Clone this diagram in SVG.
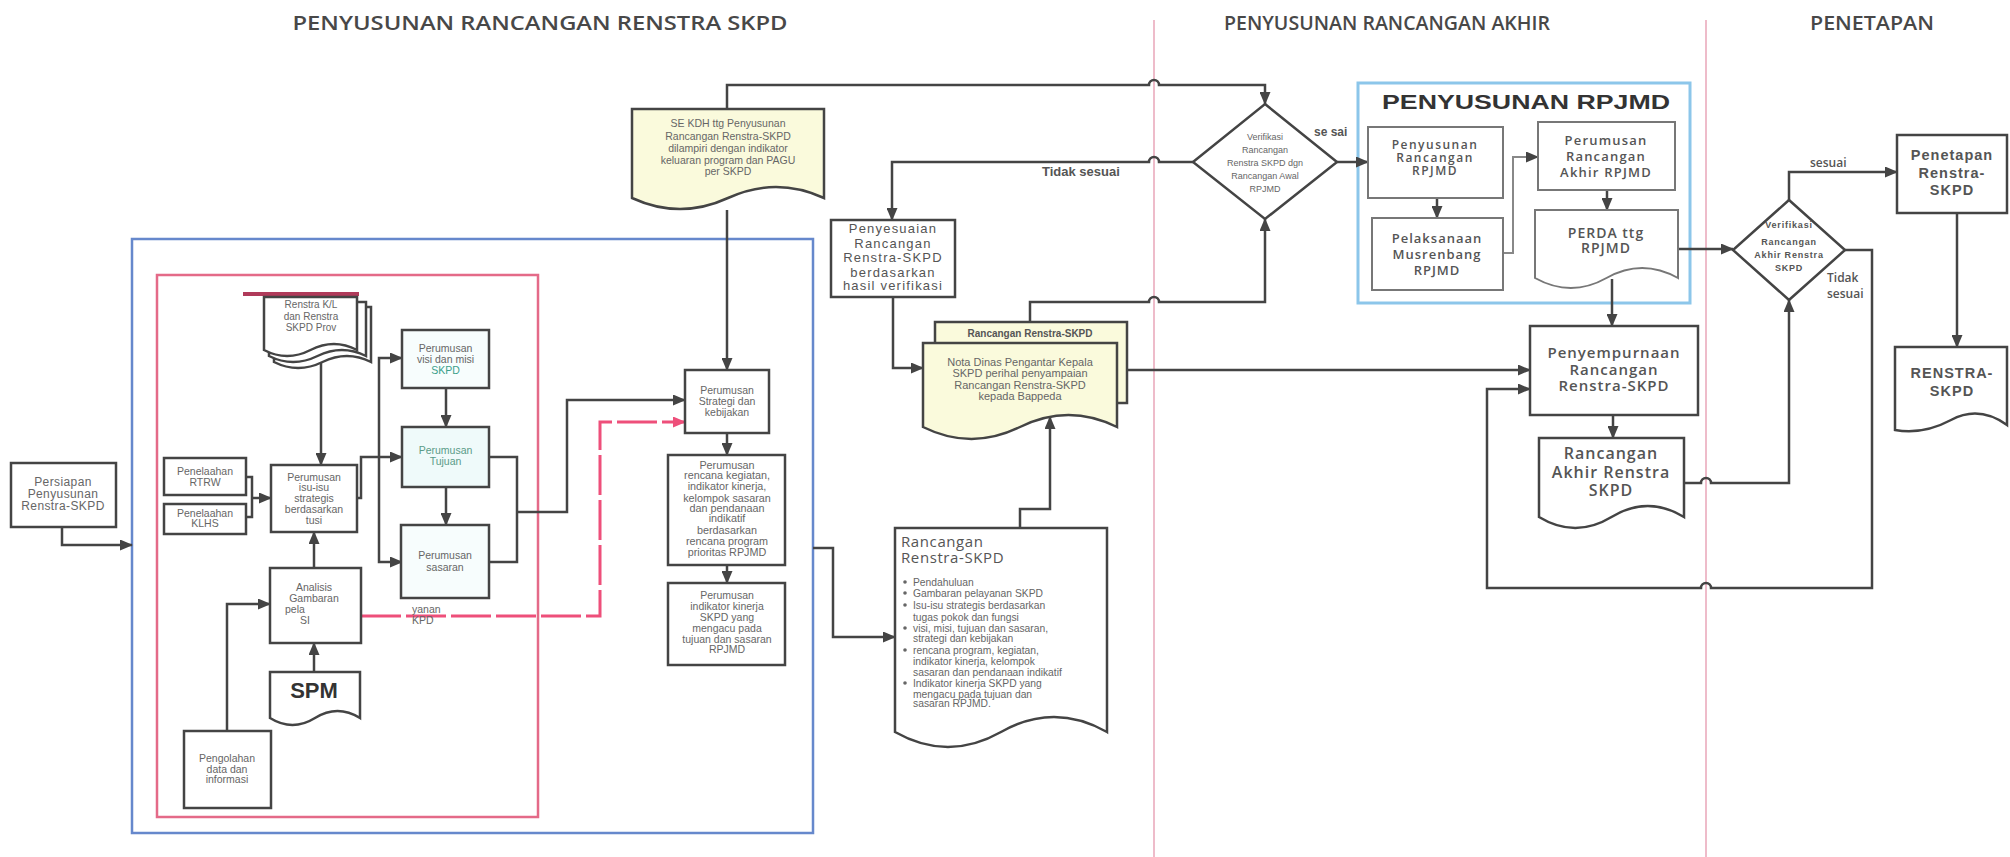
<svg xmlns="http://www.w3.org/2000/svg" width="2010" height="857" viewBox="0 0 2010 857">
<defs>
<marker id="ah" markerUnits="userSpaceOnUse" markerWidth="13" markerHeight="11" refX="12" refY="5.5" orient="auto"><path d="M0,0 L13,5.5 L0,11 z" fill="#444"/></marker>
<marker id="ahp" markerUnits="userSpaceOnUse" markerWidth="13" markerHeight="11" refX="12" refY="5.5" orient="auto"><path d="M0,0 L13,5.5 L0,11 z" fill="#ee4f7a"/></marker>
<style>
.box{fill:#fff;stroke:#444;stroke-width:2.5}
.doc{fill:#fff;stroke:#444;stroke-width:2.5}
.ydoc{fill:#fafadc;stroke:#444;stroke-width:2.5}
.rbox{fill:#fff;stroke:#777;stroke-width:2}
.c{fill:none;stroke:#444;stroke-width:2.5}
.ca{fill:none;stroke:#444;stroke-width:2.5;marker-end:url(#ah)}
.t{font-family:"Liberation Sans",Arial,sans-serif;font-size:10.5px;fill:#666;text-anchor:middle}
.tl{font-family:"Liberation Sans",Arial,sans-serif;font-size:10.3px;fill:#666}
.h{font-family:"Open Sans","Liberation Sans",sans-serif;font-size:20px;font-weight:600;fill:#484848;text-anchor:middle}
.r{font-family:"Open Sans","Liberation Sans",sans-serif;font-weight:600;fill:#555;text-anchor:middle}
.rb{font-family:"Liberation Sans",Arial,sans-serif;font-weight:bold;fill:#555;text-anchor:middle}
.div{stroke:#e8a6b8;stroke-width:1.5}
</style>
</defs>
<rect width="2010" height="857" fill="#fff"/>

<g id="headers">
<text class="h" x="540" y="30" textLength="495" lengthAdjust="spacingAndGlyphs">PENYUSUNAN RANCANGAN RENSTRA SKPD</text>
<text class="h" x="1387" y="30" textLength="326" lengthAdjust="spacingAndGlyphs">PENYUSUNAN RANCANGAN AKHIR</text>
<text class="h" x="1872" y="30" textLength="124" lengthAdjust="spacingAndGlyphs">PENETAPAN</text>
</g>

<g id="dividers">
<line class="div" x1="1154" y1="20" x2="1154" y2="857"/>
<line class="div" x1="1706" y1="20" x2="1706" y2="857"/>
</g>

<g id="frames">
<rect x="132" y="239" width="681" height="594" fill="none" stroke="#6688cc" stroke-width="2.5"/>
<rect x="157" y="275" width="381" height="542" fill="none" stroke="#e46a88" stroke-width="2.5"/>
<line x1="243" y1="294" x2="359" y2="294" stroke="#b03a5a" stroke-width="4"/>
<rect x="1358" y="83" width="332" height="220" fill="none" stroke="#8cc6ea" stroke-width="3"/>
<text x="1526" y="109" font-family="'Liberation Sans',Arial,sans-serif" font-weight="bold" font-size="20" fill="#333" text-anchor="middle" textLength="288" lengthAdjust="spacingAndGlyphs">PENYUSUNAN RPJMD</text>
</g>

<g id="connectors">
<path class="ca" d="M62,527 V545 H132"/>
<path class="c" d="M246,477 H252 V517 H246"/>
<path class="ca" d="M252,498 H271"/>
<path class="ca" d="M321,362 V465"/>
<path class="ca" d="M314,568 V532"/>
<path class="ca" d="M314,672 V643"/>
<path class="ca" d="M227,731 V604 H270"/>
<path class="ca" d="M357,498 H361 V457 H402"/>
<path class="ca" d="M379,457 V358 H402"/>
<path class="ca" d="M379,457 V562 H402"/>
<path class="ca" d="M446,388 V427"/>
<path class="ca" d="M446,487 V525"/>
<path class="c" d="M489,457 H517 V562 H489"/>
<path class="ca" d="M517,512 H567 V400 H685"/>
<path d="M361,616 H600 V422 H685" fill="none" stroke="#ee4f7a" stroke-width="3" stroke-dasharray="40,5" marker-end="url(#ahp)"/>
<path class="ca" d="M727,210 V370"/>
<path class="ca" d="M727,433 V455"/>
<path class="ca" d="M727,565 V583"/>
<path class="ca" d="M813,548 H833 V637 H895"/>
<path class="ca" d="M727,109 V85 H1149 a5,5 0 0 1 10,0 H1265 V104"/>
<path class="ca" d="M1193,162 H1159 a5,5 0 0 0 -10,0 H892 V220"/>
<path class="ca" d="M893,297 V368 H923"/>
<path class="ca" d="M1030,322 V302 H1149 a5,5 0 0 1 10,0 H1265 V219"/>
<path class="ca" d="M1117,370 H1530"/>
<path class="ca" d="M1020,528 V509 H1050 V417"/>
<path class="ca" d="M1337,162 H1368"/>
<path class="ca" d="M1437,198 V218"/>
<path fill="none" stroke="#888" stroke-width="2" marker-end="url(#ah)" d="M1503,253 H1513 V157 H1538"/>
<path class="ca" d="M1607,190 V210"/>
<path class="ca" d="M1612,279 V326"/>
<path class="ca" d="M1678,249 H1733"/>
<path class="ca" d="M1613,415 V438"/>
<path class="ca" d="M1789,200 V172 H1897"/>
<path class="ca" d="M1845,250 H1872 V588 H1711 a5,5 0 0 0 -10,0 H1487 V389 H1530"/>
<path class="ca" d="M1684,483 H1701 a5,5 0 0 1 10,0 H1789 V300"/>
<path class="ca" d="M1957,213 V347"/>
</g>

<g id="persiapan">
<rect class="box" x="11" y="463" width="105" height="64"/>
<text class="t" letter-spacing="0.4" style="font-size:12px"><tspan x="63" y="486">Persiapan</tspan><tspan x="63" y="498">Penyusunan</tspan><tspan x="63" y="510">Renstra-SKPD</tspan></text>
</g>

<g id="penelaahan-rtrw">
<rect class="box" x="164" y="458" width="82" height="37"/>
<text class="t"><tspan x="205" y="475">Penelaahan</tspan><tspan x="205" y="486">RTRW</tspan></text>
</g>
<g id="penelaahan-klhs">
<rect class="box" x="164" y="504" width="82" height="30"/>
<text class="t"><tspan x="205" y="517">Penelaahan</tspan><tspan x="205" y="527">KLHS</tspan></text>
</g>

<g id="renstra-kl">
<path class="doc" d="M274,307 H371 V362 Q347,350 322.5,362 T274,362 Z"/>
<path class="doc" d="M269,302 H366 V356 Q342,344 317.5,356 T269,356 Z"/>
<path class="doc" d="M264,297 H357 V350 Q334,338 310.5,350 T264,350 Z"/>
<text class="t" style="font-size:10px"><tspan x="311" y="308">Renstra K/L</tspan><tspan x="311" y="320">dan Renstra</tspan><tspan x="311" y="331">SKPD Prov</tspan></text>
</g>

<g id="perumusan-isu">
<rect class="box" x="271" y="465" width="86" height="67"/>
<text class="t"><tspan x="314" y="481">Perumusan</tspan><tspan x="314" y="491">isu-isu</tspan><tspan x="314" y="502">strategis</tspan><tspan x="314" y="513">berdasarkan</tspan><tspan x="314" y="524">tusi</tspan></text>
</g>

<g id="analisis">
<rect class="box" x="270" y="568" width="91" height="75"/>
<text class="t"><tspan x="314" y="591">Analisis</tspan><tspan x="314" y="602">Gambaran</tspan></text>
<text class="tl" style="font-size:10.5px" x="285" y="613">pela</text>
<text class="tl" style="font-size:10.5px" x="300" y="624">SI</text>
<text class="tl" style="font-size:10.5px" x="412" y="613">yanan</text>
<text class="tl" style="font-size:10.5px" x="412" y="624">KPD</text>
</g>

<g id="spm">
<path class="doc" d="M270,672 H360 V718 Q337.5,704 315,718 T270,718 Z"/>
<text x="314" y="698" font-family="'Liberation Sans',Arial,sans-serif" font-weight="bold" font-size="22" fill="#333" text-anchor="middle">SPM</text>
</g>

<g id="pengolahan">
<rect class="box" x="184" y="731" width="87" height="77"/>
<text class="t"><tspan x="227" y="762">Pengolahan</tspan><tspan x="227" y="773">data dan</tspan><tspan x="227" y="783">informasi</tspan></text>
</g>

<g id="perumusan-visi">
<rect class="box" x="402" y="330" width="87" height="58" style="fill:#f7fdfd"/>
<text class="t"><tspan x="445.5" y="352">Perumusan</tspan><tspan x="445.5" y="363">visi dan misi</tspan><tspan x="445.5" y="374" style="fill:#3a9f8a">SKPD</tspan></text>
</g>
<g id="perumusan-tujuan">
<rect class="box" x="402" y="427" width="87" height="60" style="fill:#effafa"/>
<text class="t" style="fill:#5a9a88"><tspan x="445.5" y="454">Perumusan</tspan><tspan x="445.5" y="465">Tujuan</tspan></text>
</g>
<g id="perumusan-sasaran">
<rect class="box" x="401" y="525" width="88" height="73" style="fill:#f7fdfd"/>
<text class="t"><tspan x="445" y="559">Perumusan</tspan><tspan x="445" y="571">sasaran</tspan></text>
</g>

<g id="se-kdh">
<path class="ydoc" d="M632,109 H824 V198 Q776,176 728,198 T632,198 Z"/>
<text class="t"><tspan x="728" y="127">SE KDH ttg Penyusunan</tspan><tspan x="728" y="140">Rancangan Renstra-SKPD</tspan><tspan x="728" y="152">dilampiri dengan indikator</tspan><tspan x="728" y="164">keluaran program dan PAGU</tspan><tspan x="728" y="175">per SKPD</tspan></text>
</g>

<g id="perumusan-strategi">
<rect class="box" x="685" y="370" width="84" height="63"/>
<text class="t"><tspan x="727" y="394">Perumusan</tspan><tspan x="727" y="405">Strategi dan</tspan><tspan x="727" y="416">kebijakan</tspan></text>
</g>

<g id="perumusan-rencana">
<rect class="box" x="668" y="455" width="117" height="110"/>
<text class="t" style="font-size:10.8px"><tspan x="727" y="469">Perumusan</tspan><tspan x="727" y="479">rencana kegiatan,</tspan><tspan x="727" y="490">indikator kinerja,</tspan><tspan x="727" y="502">kelompok sasaran</tspan><tspan x="727" y="512">dan pendanaan</tspan><tspan x="727" y="522">indikatif</tspan><tspan x="727" y="534">berdasarkan</tspan><tspan x="727" y="545">rencana program</tspan><tspan x="727" y="556">prioritas RPJMD</tspan></text>
</g>

<g id="perumusan-indikator">
<rect class="box" x="668" y="583" width="117" height="82"/>
<text class="t"><tspan x="727" y="599">Perumusan</tspan><tspan x="727" y="610">indikator kinerja</tspan><tspan x="727" y="621">SKPD yang</tspan><tspan x="727" y="632">mengacu pada</tspan><tspan x="727" y="643">tujuan dan sasaran</tspan><tspan x="727" y="653">RPJMD</tspan></text>
</g>

<g id="penyesuaian">
<rect class="box" x="831" y="220" width="124" height="77"/>
<text class="t" letter-spacing="1.2" style="font-size:13px;fill:#555"><tspan x="893" y="233">Penyesuaian</tspan><tspan x="893" y="248">Rancangan</tspan><tspan x="893" y="262">Renstra-SKPD</tspan><tspan x="893" y="277">berdasarkan</tspan><tspan x="893" y="290">hasil verifikasi</tspan></text>
</g>

<g id="nota-dinas">
<rect class="ydoc" x="935" y="322" width="192" height="81"/>
<text x="1030" y="337" font-family="'Liberation Sans',Arial,sans-serif" font-weight="bold" font-size="10" fill="#555" text-anchor="middle">Rancangan Renstra-SKPD</text>
<path class="ydoc" d="M923,343 H1117 V427 Q1068.5,403 1020,427 T923,427 Z"/>
<text class="t" style="font-size:11px"><tspan x="1020" y="366">Nota Dinas Pengantar Kepala</tspan><tspan x="1020" y="377">SKPD perihal penyampaian</tspan><tspan x="1020" y="389">Rancangan Renstra-SKPD</tspan><tspan x="1020" y="400">kepada Bappeda</tspan></text>
</g>

<g id="rancangan-renstra">
<path class="doc" d="M895,528 H1107 V732 Q1054,702 1001,732 T895,732 Z"/>
<text font-family="'Open Sans','Liberation Sans',sans-serif" font-size="15" fill="#555" letter-spacing="0.6"><tspan x="901" y="547">Rancangan</tspan><tspan x="901" y="563">Renstra-SKPD</tspan></text>
<g fill="#666"><circle cx="905" cy="582" r="1.8"/><circle cx="905" cy="593" r="1.8"/><circle cx="905" cy="605" r="1.8"/><circle cx="905" cy="628" r="1.8"/><circle cx="905" cy="650" r="1.8"/><circle cx="905" cy="683" r="1.8"/></g>
<text class="tl"><tspan x="913" y="585.5">Pendahuluan</tspan><tspan x="913" y="596.5">Gambaran pelayanan SKPD</tspan><tspan x="913" y="608.5">Isu-isu strategis berdasarkan</tspan><tspan x="913" y="620.5">tugas pokok dan fungsi</tspan><tspan x="913" y="631.5">visi, misi, tujuan dan sasaran,</tspan><tspan x="913" y="641.5">strategi dan kebijakan</tspan><tspan x="913" y="653.5">rencana program, kegiatan,</tspan><tspan x="913" y="664.5">indikator kinerja, kelompok</tspan><tspan x="913" y="675.5">sasaran dan pendanaan indikatif</tspan><tspan x="913" y="686.5">Indikator kinerja SKPD yang</tspan><tspan x="913" y="697.5">mengacu pada tujuan dan</tspan><tspan x="913" y="706.5">sasaran RPJMD.</tspan></text>
</g>

<g id="verifikasi-1">
<polygon points="1265,104 1337,162 1265,219 1193,162" fill="#fff" stroke="#444" stroke-width="2.5"/>
<text class="t" style="font-size:9px"><tspan x="1265" y="140">Verifikasi</tspan><tspan x="1265" y="153">Rancangan</tspan><tspan x="1265" y="166">Renstra SKPD dgn</tspan><tspan x="1265" y="179">Rancangan Awal</tspan><tspan x="1265" y="192">RPJMD</tspan></text>
<text x="1314" y="136" font-family="'Liberation Sans',Arial,sans-serif" font-weight="bold" font-size="12" fill="#555">se sai</text>
<text x="1042" y="176" font-family="'Liberation Sans',Arial,sans-serif" font-weight="bold" font-size="13" fill="#555">Tidak sesuai</text>
</g>

<g id="penyusunan-rancangan-rpjmd">
<rect class="rbox" x="1368" y="127" width="135" height="71"/>
<text class="r" font-size="12" letter-spacing="1.5"><tspan x="1435" y="149">Penyusunan</tspan><tspan x="1435" y="162">Rancangan</tspan><tspan x="1435" y="175">RPJMD</tspan></text>
</g>
<g id="pelaksanaan-musrenbang">
<rect class="rbox" x="1372" y="218" width="131" height="72"/>
<text class="r" font-size="13" letter-spacing="1"><tspan x="1437" y="243">Pelaksanaan</tspan><tspan x="1437" y="259">Musrenbang</tspan><tspan x="1437" y="275">RPJMD</tspan></text>
</g>
<g id="perumusan-akhir-rpjmd">
<rect class="rbox" x="1538" y="122" width="137" height="68"/>
<text class="r" font-size="13" letter-spacing="1.2"><tspan x="1606" y="145">Perumusan</tspan><tspan x="1606" y="161">Rancangan</tspan><tspan x="1606" y="177">Akhir RPJMD</tspan></text>
</g>
<g id="perda">
<path d="M1535,210 H1678 V278 Q1642,258 1606.5,278 T1535,278 Z" fill="#fff" stroke="#777" stroke-width="2"/>
<text class="r" font-size="14" letter-spacing="1"><tspan x="1606" y="238">PERDA ttg</tspan><tspan x="1606" y="253">RPJMD</tspan></text>
</g>

<g id="penyempurnaan">
<rect class="box" x="1530" y="326" width="168" height="89"/>
<text class="r" font-size="15" letter-spacing="1"><tspan x="1614" y="358">Penyempurnaan</tspan><tspan x="1614" y="375">Rancangan</tspan><tspan x="1614" y="391">Renstra-SKPD</tspan></text>
</g>

<g id="rancangan-akhir">
<path class="doc" d="M1539,438 H1684 V517 Q1647.75,495 1611.5,517 T1539,517 Z"/>
<text class="r" font-size="16" letter-spacing="1"><tspan x="1611" y="459">Rancangan</tspan><tspan x="1611" y="478">Akhir Renstra</tspan><tspan x="1611" y="496">SKPD</tspan></text>
</g>

<g id="verifikasi-2">
<polygon points="1789,200 1845,250 1789,300 1733,250" fill="#fff" stroke="#444" stroke-width="2.5"/>
<text font-family="'Liberation Sans',Arial,sans-serif" font-weight="bold" font-size="9" fill="#555" text-anchor="middle" letter-spacing="0.8"><tspan x="1789" y="228">Verifikasi</tspan><tspan x="1789" y="245">Rancangan</tspan><tspan x="1789" y="258">Akhir Renstra</tspan><tspan x="1789" y="271">SKPD</tspan></text>
<text x="1810" y="167" font-family="'Open Sans','Liberation Sans',sans-serif" font-weight="600" font-size="12" fill="#555">sesuai</text>
<text font-family="'Open Sans','Liberation Sans',sans-serif" font-weight="600" font-size="12" fill="#555"><tspan x="1827" y="282">Tidak</tspan><tspan x="1827" y="298">sesuai</tspan></text>
</g>

<g id="penetapan">
<rect class="box" x="1897" y="135" width="110" height="78"/>
<text class="rb" font-size="14.5" letter-spacing="1"><tspan x="1952" y="160">Penetapan</tspan><tspan x="1952" y="177.5">Renstra-</tspan><tspan x="1952" y="195">SKPD</tspan></text>
</g>

<g id="renstra-skpd">
<path class="doc" d="M1895,347 H2007 V425 Q1979,405 1951,420 T1895,430 Z"/>
<text class="rb" font-size="14.5" letter-spacing="1"><tspan x="1952" y="378">RENSTRA-</tspan><tspan x="1952" y="396">SKPD</tspan></text>
</g>
</svg>
